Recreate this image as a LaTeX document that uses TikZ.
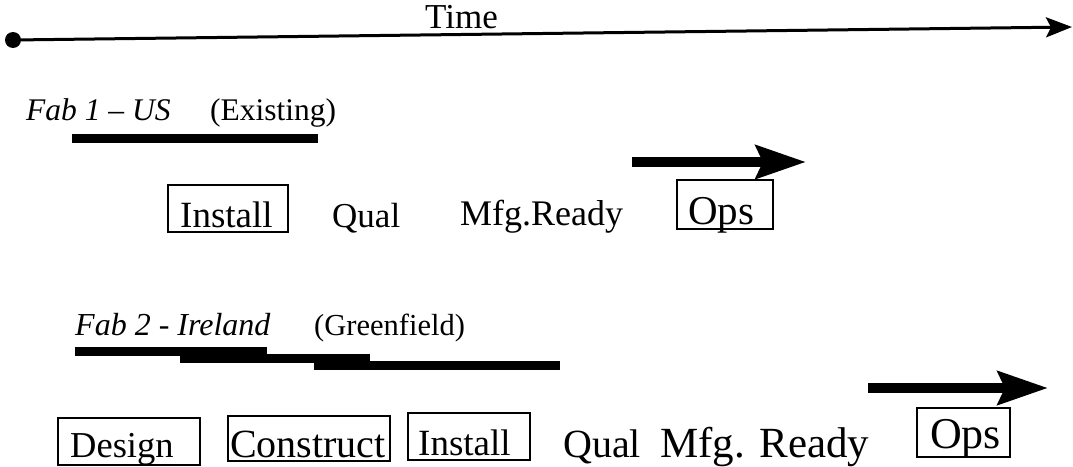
\documentclass[tikz,border=0pt]{standalone}
\usepackage{fontspec}
\setmainfont{Liberation Serif}
\usetikzlibrary{arrows.meta}
\newcommand\setfs[1]{\fontsize{#1}{#1}\selectfont}
\begin{document}
\begin{tikzpicture}[x=1pt,y=-1pt,
  lbl/.style={anchor=base west, inner sep=0pt},
  boxnode/.style={draw, line width=2.2pt, inner sep=0pt},
  bar/.style={fill=black},
  fat/.style={line width=10pt, -{Stealth[length=50pt,width=33pt,inset=7pt]}},
  timeline/.style={line width=3pt, -{Stealth[length=26pt,width=20pt,inset=5pt]}}
]
\useasboundingbox (0,0) rectangle (1073,466);

% time axis
\node[circle, fill=black, minimum size=16pt, inner sep=0pt] (dot) at (13,40) {};
\coordinate (tend) at (1072,27);
\draw[timeline] (dot.center) -- (tend);
\node[lbl, font=\setfs{35}] (time) at (425,28) {Time};

% Fab 1
\node[lbl, font=\setfs{31.5}\itshape] (fab1) at (26,120) {Fab 1 -- US};
\node[lbl, font=\setfs{31.5}] (exist) at (210,120) {(Existing)};
\fill[bar] (72,134) rectangle (318,143);

\coordinate (a1s) at (632,162);
\coordinate (a1e) at (806,162);
\draw[fat] (a1s) -- (a1e);

\node[boxnode, minimum width=120pt, minimum height=47pt] (b1inst) at (228,208.5) {};
\node[lbl, font=\setfs{37}] (t1inst) at (180,227) {Install};
\node[lbl, font=\setfs{35}] (t1qual) at (332,227) {Qual};
\node[lbl, font=\setfs{36}] (t1mfg) at (460,225) {Mfg.Ready};
\node[boxnode, minimum width=96pt, minimum height=49pt] (b1ops) at (725,204.5) {};
\node[lbl, font=\setfs{41}] (t1ops) at (688,224) {Ops};

% Fab 2
\node[lbl, font=\setfs{32}\itshape] (fab2) at (75,335) {Fab 2 - Ireland};
\node[lbl, font=\setfs{30.5}] (green) at (314,335) {(Greenfield)};
\fill[bar] (75,347) rectangle (267,356);
\fill[bar] (180,354) rectangle (370,363);
\fill[bar] (314,361) rectangle (560,370);

\coordinate (a2s) at (868,388);
\coordinate (a2e) at (1048,388);
\draw[fat] (a2s) -- (a2e);

\node[boxnode, minimum width=142pt, minimum height=47pt] (b2des) at (129,441.5) {};
\node[lbl, font=\setfs{36.5}] (t2des) at (70,457) {Design};
\node[boxnode, minimum width=162pt, minimum height=45pt] (b2con) at (309,438.5) {};
\node[lbl, font=\setfs{40}] (t2con) at (230,457) {Construct};
\node[boxnode, minimum width=122pt, minimum height=47pt] (b2inst) at (469,436.5) {};
\node[lbl, font=\setfs{37}] (t2inst) at (418,455) {Install};
\node[lbl, font=\setfs{40}] (t2qual) at (563,457) {Qual};
\node[lbl, font=\setfs{43}] (t2mfg) at (660,457) {Mfg. Ready};
\node[boxnode, minimum width=93pt, minimum height=49pt] (b2ops) at (963.5,432.5) {};
\node[lbl, font=\setfs{44}] (t2ops) at (930,448) {Ops};
\end{tikzpicture}
\end{document}
